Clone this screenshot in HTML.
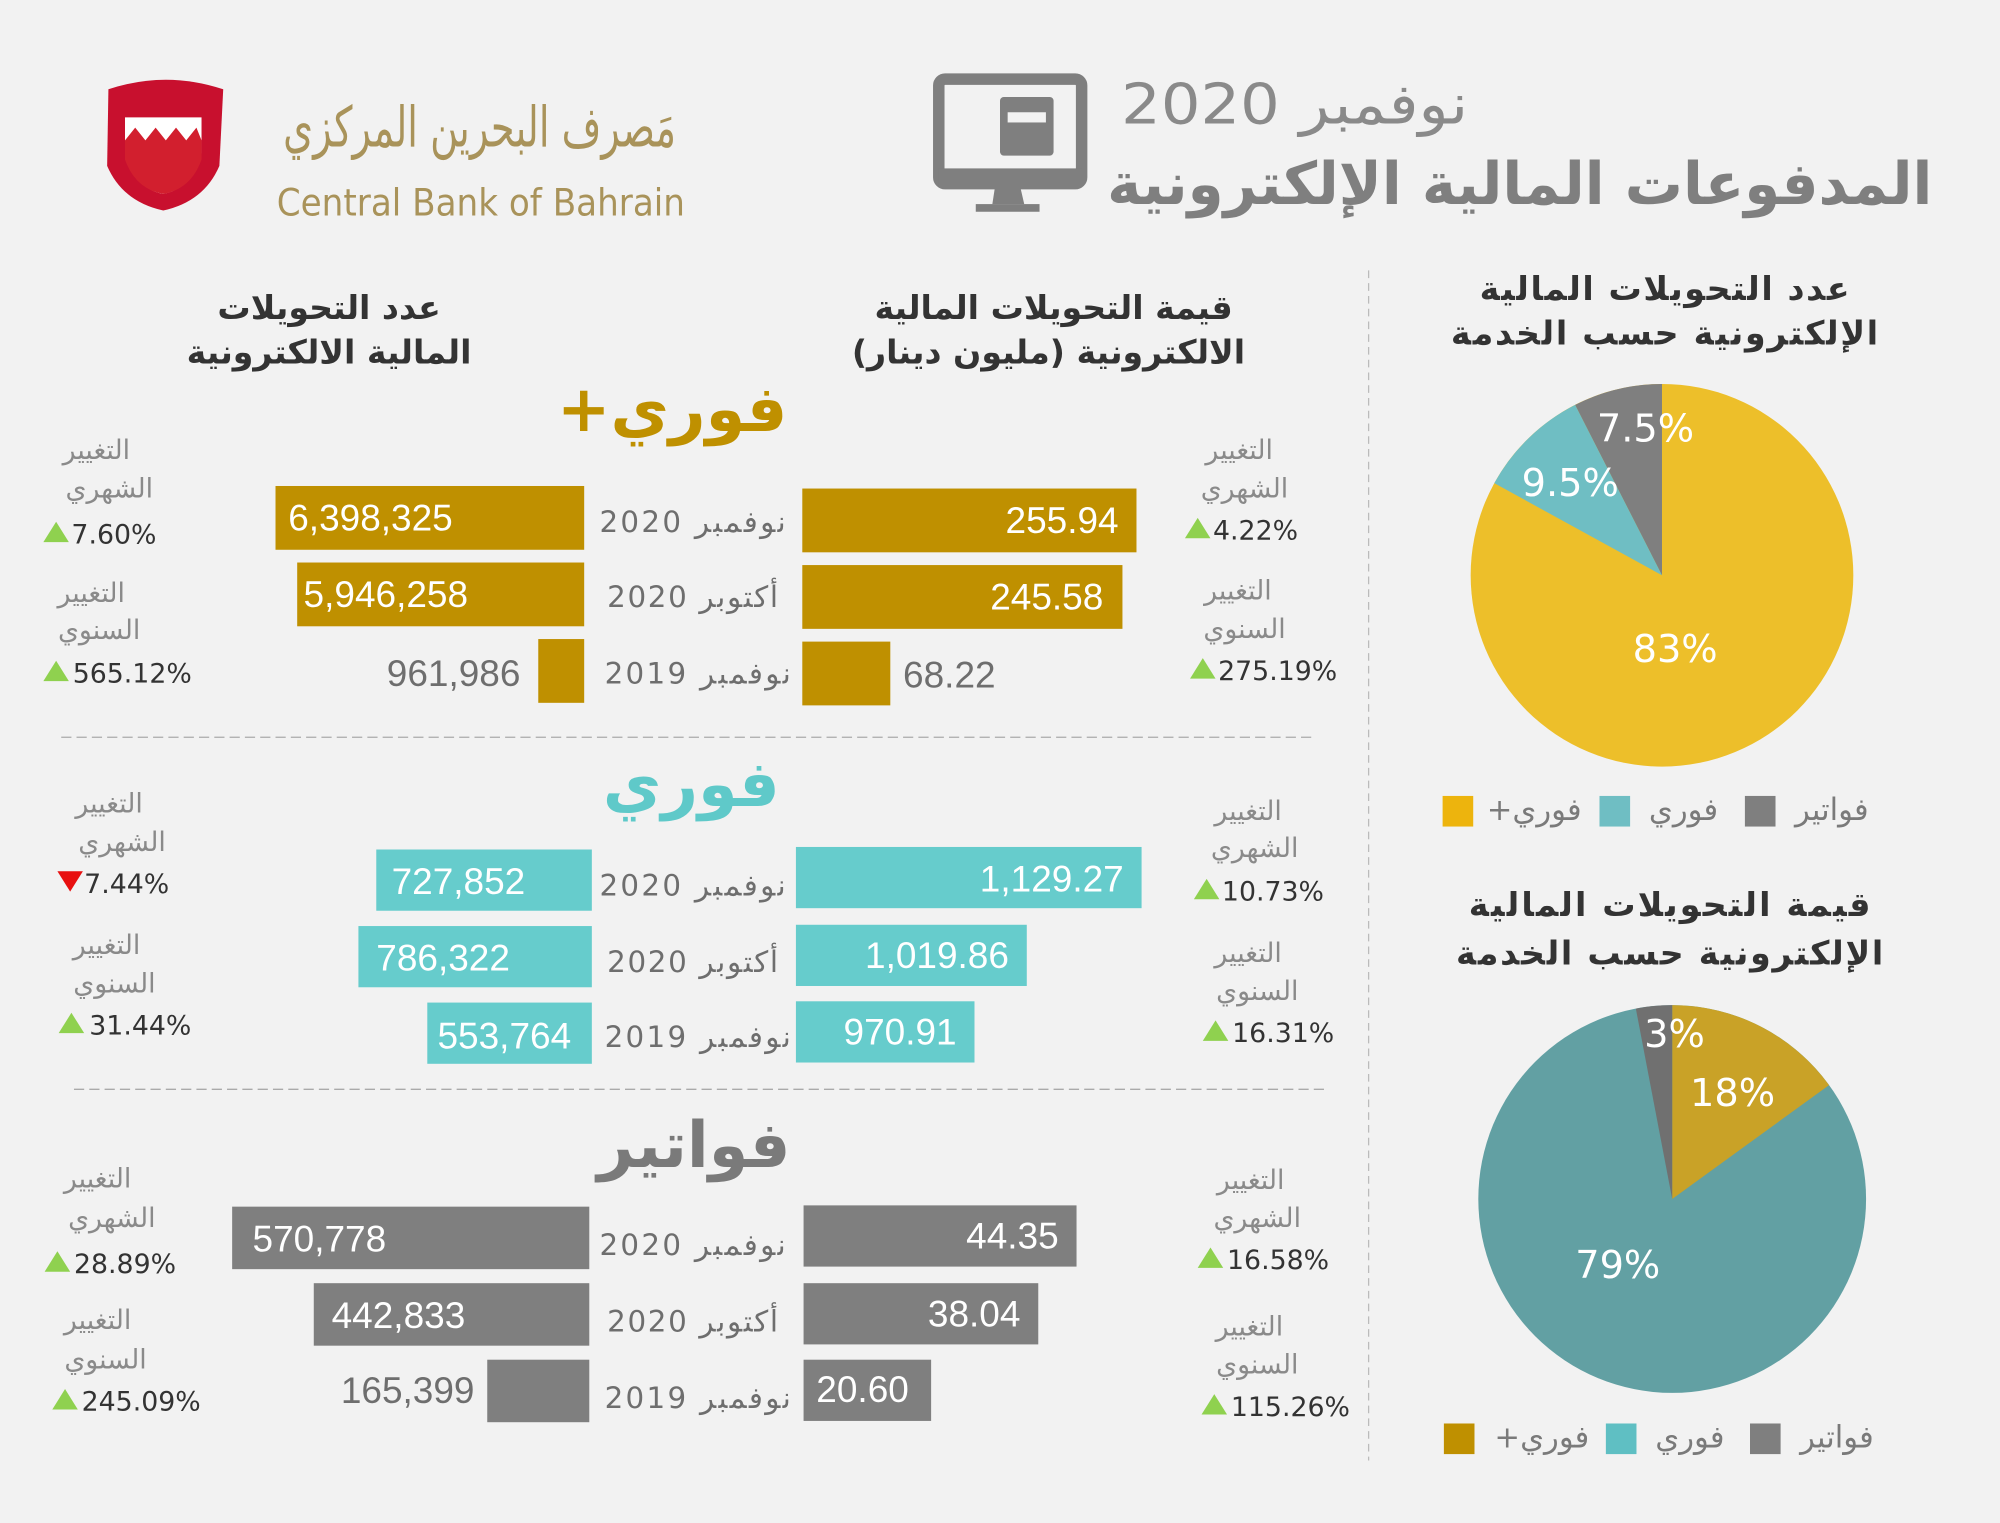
<!DOCTYPE html>
<html><head><meta charset="utf-8"><style>
html,body{margin:0;padding:0;background:#f2f2f2;width:2000px;height:1523px;overflow:hidden}
svg{display:block}
text{font-family:"DejaVu Sans","Liberation Sans",sans-serif}
.n{font-family:"Liberation Sans","DejaVu Sans",sans-serif;font-size:29px;fill:#fff}
.g{font-family:"Liberation Sans",sans-serif;font-size:29px;fill:#6e6e6e}
.d{font-size:23px;fill:#6e6e6e}
.l{font-size:21px;fill:#8a8a8a}
.p{font-family:"Liberation Sans",sans-serif;font-size:21px;fill:#333}
.h{font-size:26px;font-weight:bold;fill:#333}
</style></head><body>
<svg width="2000" height="1523" viewBox="0 0 1568 1194" xmlns="http://www.w3.org/2000/svg">
<rect width="1568" height="1194" fill="#f2f2f2"/>
<!-- logo -->
<path d="M85 70 Q130 55 175 70 L172 130 Q160 158 128 165 Q96 158 84 130 Z" fill="#c8102e"/>
<path d="M98 92 L158 92 L158 120 Q150 148 128 152 Q106 148 98 120 Z" fill="#fff"/>
<path d="M98 110 L106 100 L114 110 L122 100 L130 110 L138 100 L146 110 L154 100 L158 110 L158 125 Q150 148 128 152 Q106 148 98 125Z" fill="#d21f2e"/>
<text x="222" y="115" font-size="44" fill="#a9935a" textLength="308" lengthAdjust="spacingAndGlyphs" font-family="DejaVu Serif,serif">مَصرف البحرين المركزي</text>
<text x="217" y="169" font-size="29" fill="#a9935a" textLength="320" lengthAdjust="spacingAndGlyphs" font-family="Liberation Sans,sans-serif">Central Bank of Bahrain</text>
<!-- monitor -->
<rect x="736" y="62" width="112" height="82" rx="5" fill="none" stroke="#7f7f7f" stroke-width="9"/>
<rect x="736" y="132" width="112" height="15" fill="#7f7f7f"/>
<path d="M780 147 L800 147 L803 160 L778 160Z" fill="#7f7f7f"/>
<rect x="765" y="160" width="50" height="6" fill="#7f7f7f"/>
<rect x="784" y="76" width="42" height="46" rx="3" fill="#7f7f7f"/>
<rect x="790" y="88" width="30" height="8" fill="#f2f2f2"/>
<text x="879" y="97" font-size="44" fill="#8a8a8a" textLength="272" lengthAdjust="spacingAndGlyphs">نوفمبر 2020</text>
<text x="868" y="160" font-size="46" font-weight="bold" fill="#7f7f7f" textLength="647" lengthAdjust="spacingAndGlyphs">المدفوعات المالية الإلكترونية</text>
<!-- headers -->
<text x="258" y="250" class="h" text-anchor="middle">عدد التحويلات</text>
<text x="258" y="285" class="h" text-anchor="middle">المالية الالكترونية</text>
<text x="826" y="250" class="h" text-anchor="middle">قيمة التحويلات المالية</text>
<text x="822" y="285" class="h" text-anchor="middle">الالكترونية (مليون دينار)</text>
<line x1="1073" y1="212" x2="1073" y2="1145" stroke="#bbb" stroke-dasharray="6,4"/>
<line x1="48" y1="578" x2="1028" y2="578" stroke="#aaa" stroke-dasharray="8,4"/>
<line x1="58" y1="854" x2="1038" y2="854" stroke="#aaa" stroke-dasharray="8,4"/>
<!-- section titles -->
<text x="527" y="338" font-size="50" font-weight="bold" fill="#bf9000" text-anchor="middle">+فوري</text>
<text x="542" y="632" font-size="50" font-weight="bold" fill="#5fc9c9" text-anchor="middle">فوري</text>
<text x="544" y="915" font-size="50" font-weight="bold" fill="#7a7a7a" text-anchor="middle">فواتير</text>
<!-- Fawri+ -->
<g fill="#bf9000">
<rect x="216" y="381" width="242" height="50"/><rect x="233" y="441" width="225" height="50"/><rect x="422" y="501" width="36" height="50"/>
<rect x="629" y="383" width="262" height="50"/><rect x="629" y="443" width="251" height="50"/><rect x="629" y="503" width="69" height="50"/></g>
<text x="226" y="416" class="n">6,398,325</text><text x="238" y="476" class="n">5,946,258</text><text x="408" y="538" class="g" text-anchor="end">961,986</text>
<text x="877" y="418" class="n" text-anchor="end">255.94</text><text x="865" y="478" class="n" text-anchor="end">245.58</text><text x="708" y="539" class="g">68.22</text>
<!-- Fawri -->
<g fill="#66cccc">
<rect x="295" y="666" width="169" height="48"/><rect x="281" y="726" width="183" height="48"/><rect x="335" y="786" width="129" height="48"/>
<rect x="624" y="664" width="271" height="48"/><rect x="624" y="725" width="181" height="48"/><rect x="624" y="785" width="140" height="48"/></g>
<text x="307" y="701" class="n">727,852</text><text x="295" y="761" class="n">786,322</text><text x="343" y="822" class="n">553,764</text>
<text x="881" y="699" class="n" text-anchor="end">1,129.27</text><text x="791" y="759" class="n" text-anchor="end">1,019.86</text><text x="750" y="819" class="n" text-anchor="end">970.91</text>
<!-- Fawateer -->
<g fill="#7f7f7f">
<rect x="182" y="946" width="280" height="49"/><rect x="246" y="1006" width="216" height="49"/><rect x="382" y="1066" width="80" height="49"/>
<rect x="630" y="945" width="214" height="48"/><rect x="630" y="1006" width="184" height="48"/><rect x="630" y="1066" width="100" height="48"/></g>
<text x="198" y="981" class="n">570,778</text><text x="260" y="1041" class="n">442,833</text><text x="372" y="1100" class="g" text-anchor="end">165,399</text>
<text x="830" y="979" class="n" text-anchor="end">44.35</text><text x="800" y="1040" class="n" text-anchor="end">38.04</text><text x="640" y="1099" class="n">20.60</text>
<!-- dates -->
<g class="d" text-anchor="middle" font-size="25">
<text x="543" y="417" textLength="146">نوفمبر 2020</text><text x="543" y="476" textLength="134">أكتوبر 2020</text><text x="547" y="536" textLength="146">نوفمبر 2019</text>
<text x="543" y="702" textLength="146">نوفمبر 2020</text><text x="543" y="762" textLength="134">أكتوبر 2020</text><text x="547" y="821" textLength="146">نوفمبر 2019</text>
<text x="543" y="984" textLength="146">نوفمبر 2020</text><text x="543" y="1044" textLength="134">أكتوبر 2020</text><text x="547" y="1104" textLength="146">نوفمبر 2019</text>
</g>
<!-- change labels -->
<g class="l" text-anchor="end" font-size="23">
<text x="102" y="360">التغيير</text><text x="120" y="390">الشهري</text>
<text x="98" y="472">التغيير</text><text x="110" y="501">السنوي</text>
<text x="998" y="360">التغيير</text><text x="1010" y="390">الشهري</text>
<text x="997" y="470">التغيير</text><text x="1008" y="500">السنوي</text>
<text x="112" y="637">التغيير</text><text x="130" y="667">الشهري</text>
<text x="110" y="748">التغيير</text><text x="122" y="778">السنوي</text>
<text x="1005" y="643">التغيير</text><text x="1018" y="672">الشهري</text>
<text x="1005" y="754">التغيير</text><text x="1018" y="784">السنوي</text>
<text x="103" y="931">التغيير</text><text x="122" y="962">الشهري</text>
<text x="103" y="1042">التغيير</text><text x="115" y="1073">السنوي</text>
<text x="1007" y="932">التغيير</text><text x="1020" y="962">الشهري</text>
<text x="1006" y="1047">التغيير</text><text x="1018" y="1077">السنوي</text>
</g>
<g fill="#8fd14f">
<path d="M34 425 L44 409 L54 425Z"/><path d="M34 534 L44 518 L54 534Z"/>
<path d="M929 422 L939 406 L949 422Z"/><path d="M933 532 L943 516 L953 532Z"/>
<path d="M936 705 L946 689 L956 705Z"/><path d="M46 810 L56 794 L66 810Z"/>
<path d="M943 816 L953 800 L963 816Z"/><path d="M35 997 L45 981 L55 997Z"/>
<path d="M939 994 L949 978 L959 994Z"/><path d="M41 1105 L51 1089 L61 1105Z"/>
<path d="M942 1109 L952 1093 L962 1109Z"/></g>
<path d="M45 683 L65 683 L55 699Z" fill="#e81010"/>
<g class="p">
<text x="56" y="426">7.60%</text><text x="57" y="535">565.12%</text>
<text x="951" y="423">4.22%</text><text x="955" y="533">275.19%</text>
<text x="66" y="700">7.44%</text><text x="958" y="706">10.73%</text>
<text x="70" y="811">31.44%</text><text x="966" y="817">16.31%</text>
<text x="58" y="998">28.89%</text><text x="962" y="995">16.58%</text>
<text x="64" y="1106">245.09%</text><text x="965" y="1110">115.26%</text>
</g>
<!-- pie 1 -->
<text x="1305" y="235" class="h" text-anchor="middle" textLength="290">عدد التحويلات المالية</text>
<text x="1305" y="270" class="h" text-anchor="middle" textLength="335">الإلكترونية حسب الخدمة</text>
<circle cx="1303" cy="451" r="150" fill="#edbf2a"/>
<path d="M1303 451 L1303 301 A150 150 0 0 0 1234.9 317.4Z" fill="#7f7f7f"/>
<path d="M1303 451 L1234.9 317.4 A150 150 0 0 0 1171.5 378.8Z" fill="#6fbec3"/>
<g fill="#fff" font-family="Liberation Sans,sans-serif" font-size="30">
<text x="1252" y="346">7.5%</text><text x="1193" y="389">9.5%</text><text x="1280" y="519">83%</text></g>
<g font-size="24" fill="#7a7a7a">
<rect x="1131" y="624" width="24" height="24" fill="#edb40d"/><text x="1240" y="643" text-anchor="end">+فوري</text>
<rect x="1254" y="624" width="24" height="24" fill="#6fbec3"/><text x="1347" y="643" text-anchor="end">فوري</text>
<rect x="1368" y="624" width="24" height="24" fill="#7f7f7f"/><text x="1465" y="643" text-anchor="end">فواتير</text>
</g>
<!-- pie 2 -->
<text x="1309" y="718" class="h" text-anchor="middle" textLength="315">قيمة التحويلات المالية</text>
<text x="1309" y="756" class="h" text-anchor="middle" textLength="335">الإلكترونية حسب الخدمة</text>
<circle cx="1311" cy="940" r="152" fill="#62a0a3"/>
<path d="M1311 940 L1311 788 A152 152 0 0 1 1434 850.7Z" fill="#c9a227"/>
<path d="M1311 940 L1282.5 790.7 A152 152 0 0 1 1311 788Z" fill="#707070"/>
<g fill="#fff" font-family="Liberation Sans,sans-serif" font-size="30">
<text x="1289" y="821">3%</text><text x="1325" y="867">18%</text><text x="1235" y="1002">79%</text></g>
<g font-size="24" fill="#7a7a7a">
<rect x="1132" y="1116" width="24" height="24" fill="#bf9000"/><text x="1246" y="1135" text-anchor="end">+فوري</text>
<rect x="1259" y="1116" width="24" height="24" fill="#5fbfc3"/><text x="1352" y="1135" text-anchor="end">فوري</text>
<rect x="1372" y="1116" width="24" height="24" fill="#7f7f7f"/><text x="1469" y="1135" text-anchor="end">فواتير</text>
</g>
</svg>
</body></html>
